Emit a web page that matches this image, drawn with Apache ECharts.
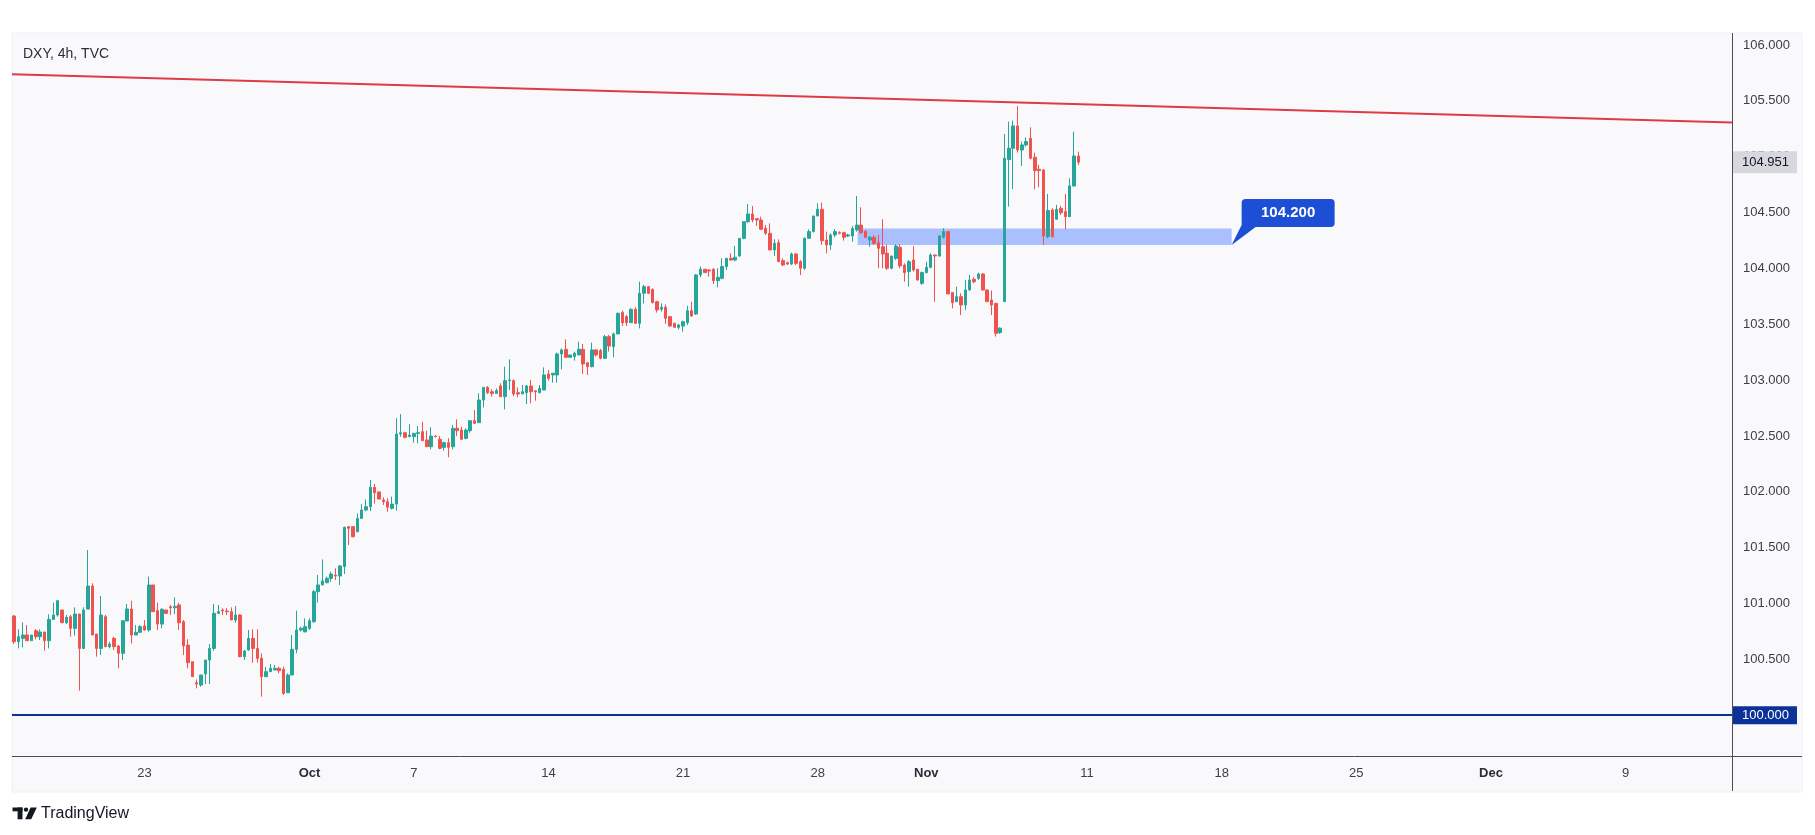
<!DOCTYPE html>
<html><head><meta charset="utf-8">
<script src="https://cdn.jsdelivr.net/npm/echarts@6/dist/echarts.min.js"></script>
<style>html,body{margin:0;padding:0;background:#fff;}#c{width:1815px;height:835px;}</style>
</head><body><div id="c"></div>
<script>
const symbolTitle = 'DXY, 4h, TVC';
const brandText = 'TradingView';
const slotCount = 396;
const tickSlots = [30, 68, 92, 123, 154, 185, 210, 247, 278, 309, 340, 371];
const tickTexts = ['23', 'Oct', '7', '14', '21', '28', 'Nov', '11', '18', '25', 'Dec', '9'];
const monthTicks = ['Oct', 'Nov', 'Dec'];
const priceTicks = [100, 100.5, 101, 101.5, 102, 102.5, 103, 103.5, 104, 104.5, 105, 105.5, 106];
const priceRange = [99.635, 106.107];
// [open, close, low, high]
const candles = [
[100.888,100.658,100.637,100.897],[100.658,100.703,100.598,100.769],[100.688,100.718,100.607,100.831],[100.718,100.667,100.667,100.807],
[100.667,100.718,100.667,100.718],[100.757,100.703,100.679,100.769],[100.703,100.745,100.673,100.769],[100.745,100.667,100.578,100.745],
[100.667,100.858,100.598,100.903],[100.858,100.897,100.858,101.007],[100.897,101.025,100.882,101.031],[100.942,100.828,100.828,100.942],
[100.828,100.876,100.816,100.897],[100.882,100.778,100.703,100.897],[100.778,100.906,100.712,100.966],[100.906,100.598,100.220,100.906],
[100.598,100.942,100.598,100.966],[100.950,101.157,100.950,101.479],[101.157,100.718,100.718,101.181],[100.727,100.598,100.524,100.727],
[100.598,100.897,100.539,101.067],[100.882,100.613,100.613,100.897],[100.613,100.637,100.598,100.658],[100.688,100.613,100.583,100.703],
[100.620,100.554,100.420,100.628],[100.554,100.846,100.494,100.846],[100.843,100.951,100.843,100.996],[100.951,100.718,100.643,101.025],
[100.718,100.742,100.718,100.807],[100.742,100.793,100.742,100.807],[100.799,100.763,100.757,100.852],[100.763,101.166,100.748,101.240],
[101.166,100.927,100.927,101.166],[100.936,100.816,100.763,101.007],[100.816,100.948,100.778,100.957],[100.942,100.912,100.906,100.942],
[100.970,100.962,100.897,100.987],[100.962,100.975,100.906,101.055],[100.987,100.828,100.763,101.007],[100.837,100.620,100.539,100.852],
[100.628,100.470,100.420,100.680],[100.479,100.345,100.345,100.479],[100.291,100.279,100.240,100.321],[100.270,100.360,100.255,100.360],
[100.369,100.494,100.279,100.494],[100.494,100.598,100.279,100.637],[100.598,100.912,100.578,100.996],[100.912,100.927,100.906,100.987],
[100.942,100.933,100.897,100.957],[100.933,100.927,100.897,100.957],[100.927,100.852,100.852,100.966],[100.852,100.897,100.828,100.978],
[100.897,100.524,100.518,100.906],[100.524,100.575,100.494,100.584],[100.584,100.688,100.578,100.763],[100.688,100.598,100.470,100.769],
[100.598,100.509,100.470,100.769],[100.509,100.345,100.166,100.554],[100.345,100.390,100.345,100.434],[100.390,100.420,100.390,100.459],
[100.405,100.420,100.405,100.450],[100.420,100.399,100.375,100.434],[100.411,100.196,100.181,100.434],[100.201,100.360,100.201,100.375],
[100.360,100.590,100.360,100.718],[100.590,100.763,100.554,100.936],[100.763,100.778,100.748,100.793],[100.745,100.793,100.745,100.867],
[100.778,100.846,100.763,100.867],[100.837,101.106,100.828,101.121],[101.106,101.166,101.008,101.255],[101.166,101.202,101.166,101.395],
[101.187,101.225,101.180,101.240],[101.225,101.264,101.195,101.285],[101.255,101.246,101.210,101.315],[101.246,101.336,101.166,101.345],
[101.330,101.682,101.264,101.688],[101.688,101.673,101.524,101.694],[101.688,101.598,101.592,101.694],[101.643,101.762,101.637,101.807],
[101.762,101.837,101.762,101.890],[101.837,101.867,101.827,101.932],[101.867,102.040,101.827,102.106],[102.040,101.992,101.897,102.070],
[101.999,101.935,101.935,101.999],[101.927,101.912,101.882,101.950],[101.912,101.862,101.822,101.942],[101.852,101.890,101.842,101.957],
[101.890,102.517,101.831,102.658],[102.517,102.529,102.493,102.696],[102.529,102.488,102.479,102.538],[102.494,102.508,102.488,102.605],
[102.494,102.523,102.440,102.529],[102.523,102.529,102.434,102.589],[102.538,102.458,102.458,102.627],[102.464,102.404,102.404,102.547],
[102.404,102.499,102.380,102.577],[102.499,102.494,102.488,102.508],[102.470,102.389,102.380,102.499],[102.398,102.440,102.368,102.449],
[102.440,102.398,102.309,102.479],[102.404,102.568,102.380,102.598],[102.568,102.547,102.499,102.649],[102.553,102.470,102.470,102.583],
[102.478,102.553,102.470,102.568],[102.547,102.637,102.529,102.637],[102.637,102.613,102.607,102.732],[102.619,102.822,102.619,102.881],
[102.822,102.935,102.756,102.935],[102.935,102.887,102.875,102.947],[102.896,102.881,102.851,102.917],[102.881,102.905,102.875,102.926],
[102.947,102.852,102.846,102.971],[102.852,102.995,102.738,103.120],[102.995,103.001,102.911,103.186],[102.995,102.876,102.858,103.007],
[102.887,102.876,102.846,102.935],[102.876,102.896,102.876,102.956],[102.887,102.947,102.786,102.956],[102.947,102.896,102.792,103.001],
[102.905,102.896,102.816,102.905],[102.887,102.926,102.882,102.956],[102.911,103.046,102.911,103.114],[103.055,103.016,102.995,103.090],
[103.046,103.061,102.977,103.061],[103.046,103.234,102.977,103.246],[103.234,103.270,103.096,103.284],[103.276,103.204,103.204,103.365],
[103.204,103.225,103.204,103.225],[103.210,103.240,103.174,103.255],[103.225,103.276,103.225,103.344],[103.276,103.144,103.055,103.323],
[103.156,103.120,103.046,103.156],[103.120,103.270,103.114,103.335],[103.270,103.225,103.210,103.276],[103.264,103.195,103.186,103.279],
[103.195,103.389,103.189,103.404],[103.389,103.305,103.255,103.404],[103.299,103.413,103.204,103.425],[103.413,103.598,103.413,103.604],
[103.604,103.514,103.484,103.622],[103.568,103.514,103.484,103.583],[103.514,103.634,103.514,103.643],[103.634,103.508,103.502,103.652],
[103.508,103.777,103.463,103.881],[103.777,103.836,103.687,103.851],[103.836,103.777,103.771,103.842],[103.812,103.693,103.687,103.821],
[103.702,103.628,103.604,103.711],[103.634,103.652,103.613,103.687],[103.652,103.553,103.503,103.676],[103.568,103.484,103.478,103.568],
[103.508,103.472,103.472,103.514],[103.472,103.493,103.454,103.502],[103.484,103.523,103.433,103.532],[103.514,103.621,103.493,103.664],
[103.621,103.574,103.568,103.702],[103.592,103.941,103.583,103.950],[103.941,103.992,103.920,104.016],[103.992,103.962,103.962,103.992],
[103.986,103.977,103.926,103.992],[103.992,103.890,103.860,104.001],[103.890,103.920,103.830,104.001],[103.911,104.016,103.902,104.090],
[104.016,104.090,103.986,104.090],[104.090,104.075,104.069,104.135],[104.075,104.099,104.063,104.201],[104.111,104.269,104.105,104.269],
[104.269,104.418,104.260,104.418],[104.418,104.487,104.406,104.576],[104.487,104.433,104.412,104.559],[104.445,104.433,104.380,104.445],
[104.433,104.350,104.344,104.463],[104.359,104.314,104.299,104.388],[104.314,104.165,104.165,104.403],[104.165,104.224,104.111,104.260],
[104.230,104.060,104.060,104.260],[104.069,104.030,104.022,104.090],[104.051,104.039,104.030,104.060],[104.039,104.129,104.030,104.141],
[104.129,104.045,104.030,104.135],[104.060,104.001,103.941,104.075],[104.001,104.269,103.986,104.278],[104.269,104.329,104.269,104.350],
[104.329,104.469,104.323,104.469],[104.469,104.529,104.469,104.583],[104.529,104.248,104.210,104.589],[104.254,104.210,104.135,104.329],
[104.210,104.299,104.165,104.314],[104.299,104.329,104.278,104.350],[104.320,104.314,104.305,104.332],[104.320,104.278,104.248,104.329],
[104.290,104.299,104.280,104.310],[104.290,104.356,104.239,104.380],[104.344,104.388,104.329,104.648],[104.388,104.320,104.308,104.547],
[104.329,104.278,104.269,104.344],[104.254,104.278,104.194,104.290],[104.278,104.224,104.210,104.299],[104.230,104.180,104.001,104.299],
[104.194,104.129,104.001,104.440],[104.135,104.001,103.986,104.210],[104.001,104.111,103.992,104.111],[104.090,104.200,104.075,104.215],
[104.189,104.022,104.001,104.215],[104.030,103.962,103.881,104.045],[103.971,104.060,103.836,104.075],[104.075,103.986,103.971,104.200],
[103.992,103.896,103.890,103.992],[103.866,103.962,103.851,103.971],[103.962,104.010,103.956,104.060],[104.010,104.120,104.001,104.135],
[104.120,104.111,103.702,104.120],[104.111,104.290,104.105,104.299],[104.278,104.329,104.269,104.359],[104.329,103.771,103.771,104.329],
[103.783,103.693,103.642,103.783],[103.702,103.747,103.702,103.836],[103.747,103.672,103.583,103.777],[103.672,103.807,103.628,103.896],
[103.807,103.896,103.801,103.941],[103.902,103.881,103.866,103.920],[103.911,103.950,103.896,103.962],[103.950,103.807,103.801,103.956],
[103.807,103.702,103.702,103.807],[103.717,103.672,103.583,103.801],[103.687,103.419,103.389,103.687],[103.425,103.465,103.413,103.473],
[103.702,104.985,103.702,105.203],[104.975,105.075,104.553,105.314],[105.075,105.275,104.708,105.323],[105.275,105.060,105.036,105.454],
[105.060,105.105,104.917,105.135],[105.105,105.135,105.090,105.173],[105.164,104.985,104.976,105.263],[104.994,104.875,104.708,105.036],
[104.887,104.875,104.726,104.926],[104.881,104.290,104.210,104.887],[104.284,104.517,104.269,104.666],[104.523,104.284,104.278,104.538],
[104.440,104.529,104.436,104.568],[104.538,104.499,104.478,104.560],[104.508,104.463,104.350,104.666],[104.463,104.738,104.463,104.806],
[104.738,105.006,104.732,105.224],[105.006,104.951,104.926,105.045]
];
const trendLine = [[0, 105.738], [396, 105.306]];
const supportLevel = 100;
const zoneCorners = [[194.7, 104.358], [280.8, 104.209]];
const zoneLabel = '104.200';

const upColor = '#26a69a', downColor = '#ef5350';
const calloutColor = '#1c4fd6';
const navy = '#0c3299';
const FONT = '"Liberation Sans", Arial, sans-serif';

const categories = Array.from({length: slotCount}, (_, i) => String(i));
const tickMap = {};
tickSlots.forEach((s, k) => { tickMap[s] = tickTexts[k]; });
const ohlc = candles.map(([o, c, l, h]) => [o, c, Math.min(l, o, c), Math.max(h, o, c)]);
const lastClose = candles[candles.length - 1][1];

const chart = echarts.init(document.getElementById('c'), null, {renderer: 'canvas'});
chart.setOption({
  animation: false,
  backgroundColor: '#ffffff',
  graphic: [
    {type: 'rect', z: -10, silent: true, shape: {x: 12, y: 33, width: 1790, height: 759},
     style: {fill: '#f9f9fc', stroke: '#eef0f4', lineWidth: 1}},
    {type: 'line', z: 50, silent: true, shape: {x1: 1732.5, y1: 33, x2: 1732.5, y2: 791},
     style: {stroke: '#4a4d55', lineWidth: 1}},
    {type: 'line', z: 50, silent: true, shape: {x1: 12, y1: 756.5, x2: 1802, y2: 756.5},
     style: {stroke: '#4a4d55', lineWidth: 1}},
    {type: 'text', z: 60, silent: true, style: {text: symbolTitle, x: 23, y: 54, verticalAlign: 'middle',
      font: '14px ' + FONT, fill: '#2a2e39'}},
    {type: 'group', z: 60, silent: true, children: [
      {type: 'rect', shape: {x: 12.5, y: 807.5, width: 10, height: 3.8}, style: {fill: '#131722'}},
      {type: 'rect', shape: {x: 17.6, y: 807.5, width: 4.9, height: 11.8}, style: {fill: '#131722'}},
      {type: 'circle', shape: {cx: 26, cy: 809.6, r: 2.2}, style: {fill: '#131722'}},
      {type: 'polygon', shape: {points: [[30.6, 807.5], [36.8, 807.5], [31.2, 819.3], [25.2, 819.3]]}, style: {fill: '#131722'}},
      {type: 'text', style: {text: brandText, x: 41, y: 813.5, verticalAlign: 'middle', font: '16px ' + FONT, fill: '#131722'}}
    ]}
  ],
  grid: {left: 12, right: 83, top: 33, bottom: 79, containLabel: false},
  xAxis: [
    {type: 'category', data: categories, boundaryGap: true,
     axisLine: {show: false}, axisTick: {show: false}, splitLine: {show: false},
     axisLabel: {
       interval: (idx) => tickMap[idx] !== undefined,
       formatter: (val, idx) => {
         const t = tickMap[idx];
         if (t === undefined) return '';
         return monthTicks.includes(t) ? '{m|' + t + '}' : t;
       },
       margin: 11, fontSize: 13, fontFamily: FONT, color: '#3b3f4a',
       rich: {m: {fontWeight: 'bold', fontSize: 13, fontFamily: FONT, color: '#2a2e39'}}
     }},
    {type: 'value', min: 0, max: slotCount, show: false}
  ],
  yAxis: {
    type: 'value', position: 'right', min: priceRange[0], max: priceRange[1], scale: true,
    axisLine: {show: false}, axisTick: {show: false}, splitLine: {show: false},
    axisLabel: {customValues: priceTicks, formatter: (v) => v.toFixed(3), margin: 11,
      fontSize: 13, fontFamily: FONT, color: '#3b3f4a'}
  },
  series: [
    {
      type: 'candlestick', xAxisIndex: 0, yAxisIndex: 0, z: 2,
      data: ohlc, barWidth: 3,
      itemStyle: {color: upColor, color0: downColor, borderColor: upColor, borderColor0: downColor, borderWidth: 1},
      markLine: {
        symbol: 'none', silent: true, animation: false,
        data: [
          {yAxis: supportLevel, lineStyle: {color: navy, width: 2, type: 'solid'},
           label: {show: true, position: 'end', distance: 1, formatter: () => supportLevel.toFixed(3),
             backgroundColor: navy, color: '#ffffff', fontSize: 13, fontFamily: FONT, padding: [3, 8, 2, 9]}},
          {yAxis: lastClose, lineStyle: {color: 'rgba(0,0,0,0)', width: 1, type: 'solid'},
           label: {show: true, position: 'end', distance: 1, formatter: () => lastClose.toFixed(3),
             backgroundColor: '#d6d8de', color: '#131722', opacity: 1, fontSize: 13, fontFamily: FONT, padding: [5, 8, 4, 9]}}
        ]
      }
    },
    {
      type: 'line', xAxisIndex: 1, yAxisIndex: 0, z: 5, data: trendLine, symbol: 'none', silent: true,
      lineStyle: {color: '#de3b44', width: 2}, clip: true,
      markArea: {
        silent: true,
        itemStyle: {color: 'rgba(41,98,255,0.38)'},
        data: [[{xAxis: zoneCorners[0][0], yAxis: zoneCorners[0][1]}, {xAxis: zoneCorners[1][0], yAxis: zoneCorners[1][1]}]]
      }
    },
    {
      type: 'custom', xAxisIndex: 1, yAxisIndex: 0, z: 10, silent: true,
      data: [[zoneCorners[1][0], zoneCorners[1][1]]],
      renderItem: (params, api) => {
        const p = api.coord([api.value(0), api.value(1)]);
        const L = p[0] + 10, R = p[0] + 103, T = p[1] - 46, B = p[1] - 18;
        return {type: 'group', children: [
          {type: 'polygon', shape: {points: [[p[0], p[1]], [L + 1, B - 4], [L + 14, B]]}, style: {fill: calloutColor}},
          {type: 'rect', shape: {x: L, y: T, width: R - L, height: B - T, r: 4}, style: {fill: calloutColor}},
          {type: 'text', style: {text: zoneLabel, x: (L + R) / 2, y: (T + B) / 2, align: 'center', verticalAlign: 'middle',
            fill: '#ffffff', font: 'bold 15px ' + FONT}}
        ]};
      }
    }
  ]
});
</script></body></html>
